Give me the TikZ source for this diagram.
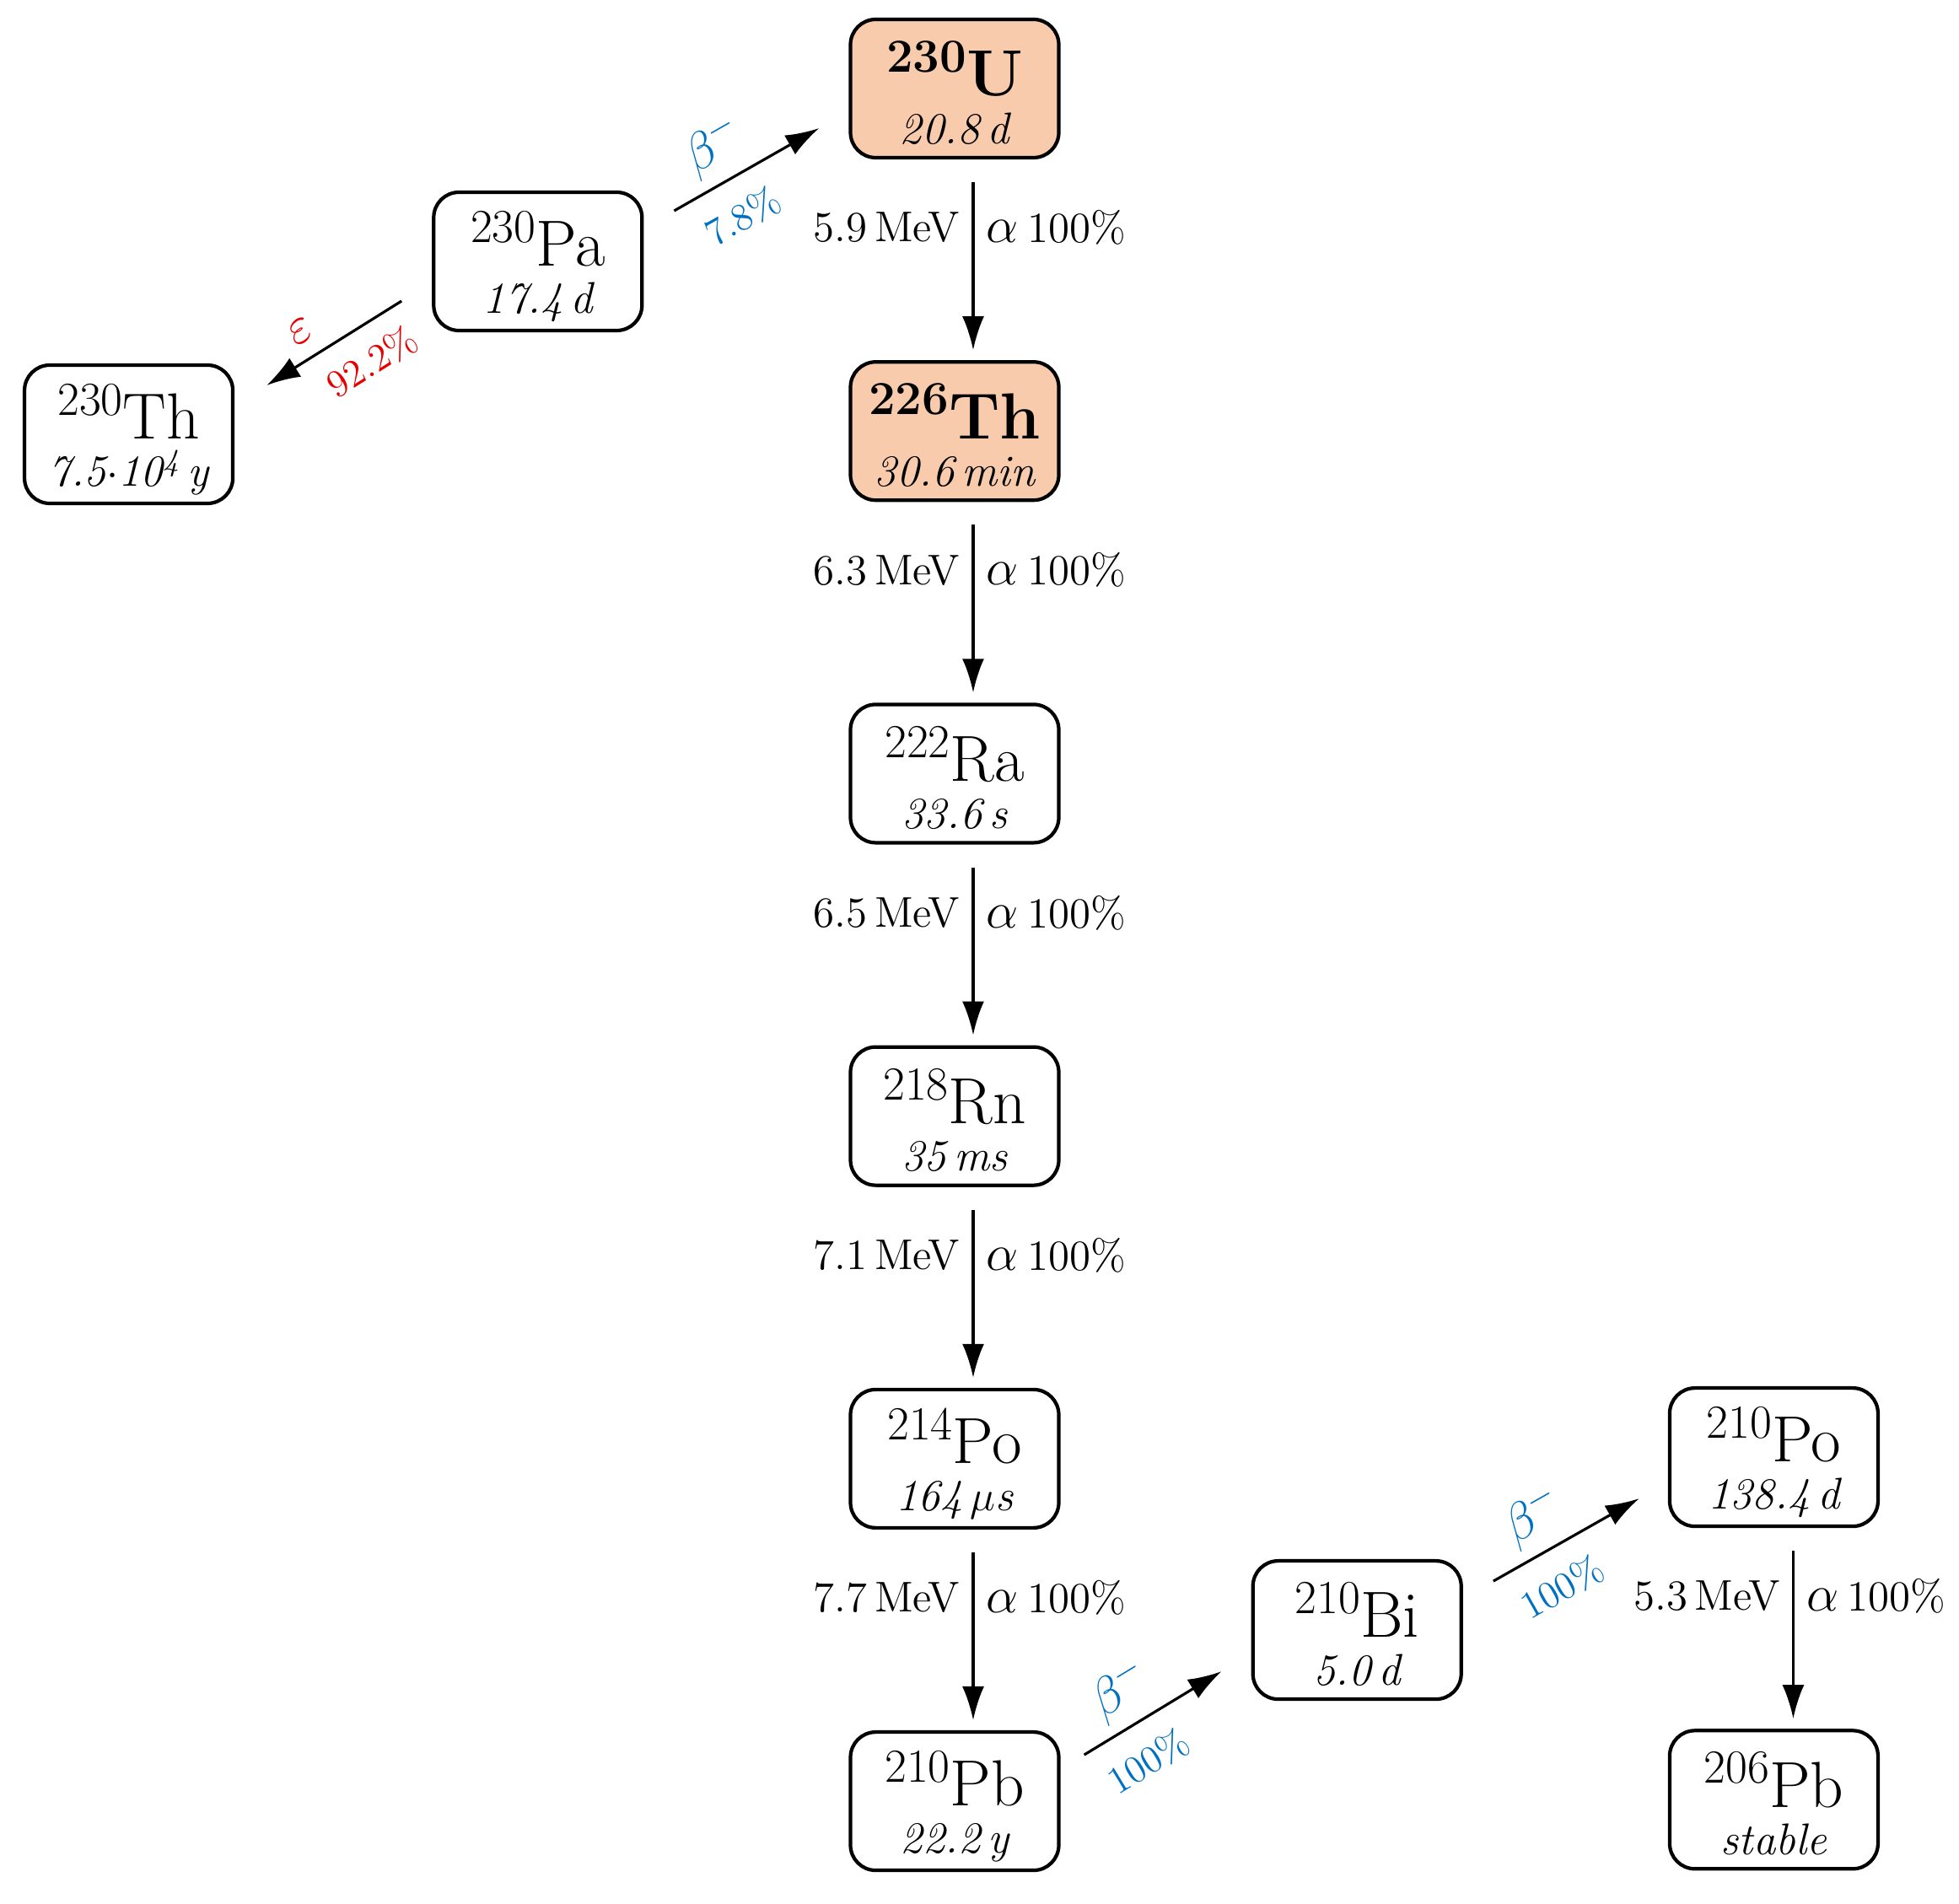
\documentclass[tikz,border=0pt]{standalone}
\usepackage{fontspec}
\usepackage{xcolor}
\usepackage{tikz}
\usetikzlibrary{calc, positioning, arrows.meta}
\definecolor{hotfill}{HTML}{F8CBAD}
\definecolor{betablue}{HTML}{0070C0}
\definecolor{ecred}{HTML}{E60000}
\newcommand{\nuclide}[3]{%
    {\fontsize{22}{22}\selectfont\rule{0pt}{22pt}\raisebox{8pt}{\fontsize{16}{16}\selectfont #1}#2}\\%
    {\itshape #3}\rule[-1pt]{0pt}{1pt}}
\newcommand{\alphalbl}{{\fontsize{19}{19}\selectfont$\alpha$}\hspace{3pt}100\%}
\tikzset{
    iso/.style={rectangle, draw=black, line width=1.2pt, rounded corners=0.3cm, fill=white, align=center, minimum width=2.47cm, minimum height=1.64cm, inner sep=0pt, font=\fontsize{15}{16}\selectfont},
    hot/.style={iso, fill=hotfill},
    arrow/.style={-{Latex[length=4mm, width=2.6mm]}, line width=0.9pt},
    alphaarrow/.style={arrow, shorten <=0.27cm, shorten >=0.12cm},
    energy/.style={font=\fontsize{14.5}{16}\selectfont, inner sep=4pt},
    betalbl/.style={text=betablue, sloped, font=\fontsize{18}{18}\selectfont},
    betapct/.style={text=betablue, sloped, font=\fontsize{13}{15}\selectfont},
    eclbl/.style={text=ecred, sloped, font=\fontsize{18}{18}\selectfont},
    ecpct/.style={text=ecred, sloped, font=\fontsize{13}{15}\selectfont}
}
\begin{document}
\begin{tikzpicture}[node distance=2.38cm]
        \useasboundingbox (0,0) rectangle (23.23,-22.58);
        % main alpha chain
        \node[hot] (U230) at (11.32,-1.05) {\nuclide{\bfseries 230}{\bfseries U}{20.8\,d}};
        \node[hot, below=of U230] (Th226) {\nuclide{\bfseries 226}{\bfseries Th}{30.6\,min}};
        \node[iso, below=of Th226] (Ra222) {\nuclide{222}{Ra}{33.6\,s}};
        \node[iso, below=of Ra222] (Rn218) {\nuclide{218}{Rn}{35\,ms}};
        \node[iso, below=of Rn218] (Po214) {\nuclide{214}{Po}{164\,$\mu$s}};
        \node[iso, below=of Po214] (Pb210) {\nuclide{210}{Pb}{22.2\,y}};
        
        % side branches
        \node[iso, left=2.43cm of U230, yshift=-2.05cm] (Pa230) {\nuclide{230}{Pa}{17.4\,d}};
        \node[iso, left=2.34cm of Pa230, yshift=-2.05cm] (Th230) {\nuclide{230}{Th}{7.5$\cdot$10\textsuperscript{4}\,y}};
        \node[iso, right=2.26cm of Pb210, yshift=2.03cm] (Bi210) {\nuclide{210}{Bi}{5.0\,d}};
        \node[iso, right=2.43cm of Bi210, yshift=2.05cm] (Po210) {\nuclide{210}{Po}{138.4\,d}};
        \node[iso, below=of Po210] (Pb206) {\nuclide{206}{Pb}{stable}};
        
        \draw[alphaarrow] ([xshift=0.22cm]U230.south) -- node[energy, pos=0.34, left] {5.9\,MeV} node[energy, pos=0.34, right] {\alphalbl} ([xshift=0.22cm]Th226.north);
        \draw[alphaarrow] ([xshift=0.22cm]Th226.south) -- node[energy, pos=0.34, left] {6.3\,MeV} node[energy, pos=0.34, right] {\alphalbl} ([xshift=0.22cm]Ra222.north);
        \draw[alphaarrow] ([xshift=0.22cm]Ra222.south) -- node[energy, pos=0.34, left] {6.5\,MeV} node[energy, pos=0.34, right] {\alphalbl} ([xshift=0.22cm]Rn218.north);
        \draw[alphaarrow] ([xshift=0.22cm]Rn218.south) -- node[energy, pos=0.34, left] {7.1\,MeV} node[energy, pos=0.34, right] {\alphalbl} ([xshift=0.22cm]Po214.north);
        \draw[alphaarrow] ([xshift=0.22cm]Po214.south) -- node[energy, pos=0.34, left] {7.7\,MeV} node[energy, pos=0.34, right] {\alphalbl} ([xshift=0.22cm]Pb210.north);
        \draw[alphaarrow] ([xshift=0.23cm]Po210.south) -- node[energy, pos=0.34, left] {5.3\,MeV} node[energy, pos=0.34, right] {\alphalbl} ([xshift=0.23cm]Pb206.north);
        
        % beta and EC branches
        \draw[arrow] ([shift={(0.36,0.6)}]Pa230.east) -- node[betalbl, above=0pt, pos=0.4] {$\beta^-$} node[betapct, below=4pt, pos=0.34] {7.8\%} ([shift={(-0.35,-0.47)}]U230.west);
        \draw[arrow] ([shift={(-0.36,-0.47)}]Pa230.west) -- node[eclbl, above=2pt, pos=0.64] {$\varepsilon$} node[ecpct, below=3pt, pos=0.36] {92.2\%} ([shift={(0.38,0.58)}]Th230.east);
        \draw[arrow] ([shift={(0.28,0.55)}]Pb210.east) -- node[betalbl, above=0pt, pos=0.4] {$\beta^-$} node[betapct, below=4pt, pos=0.32] {100\%} ([shift={(-0.35,-0.49)}]Bi210.west);
        \draw[arrow] ([shift={(0.36,0.58)}]Bi210.east) -- node[betalbl, above=0pt, pos=0.4] {$\beta^-$} node[betapct, below=4pt, pos=0.34] {100\%} ([shift={(-0.34,-0.49)}]Po210.west);
    \end{tikzpicture}
\end{document}
